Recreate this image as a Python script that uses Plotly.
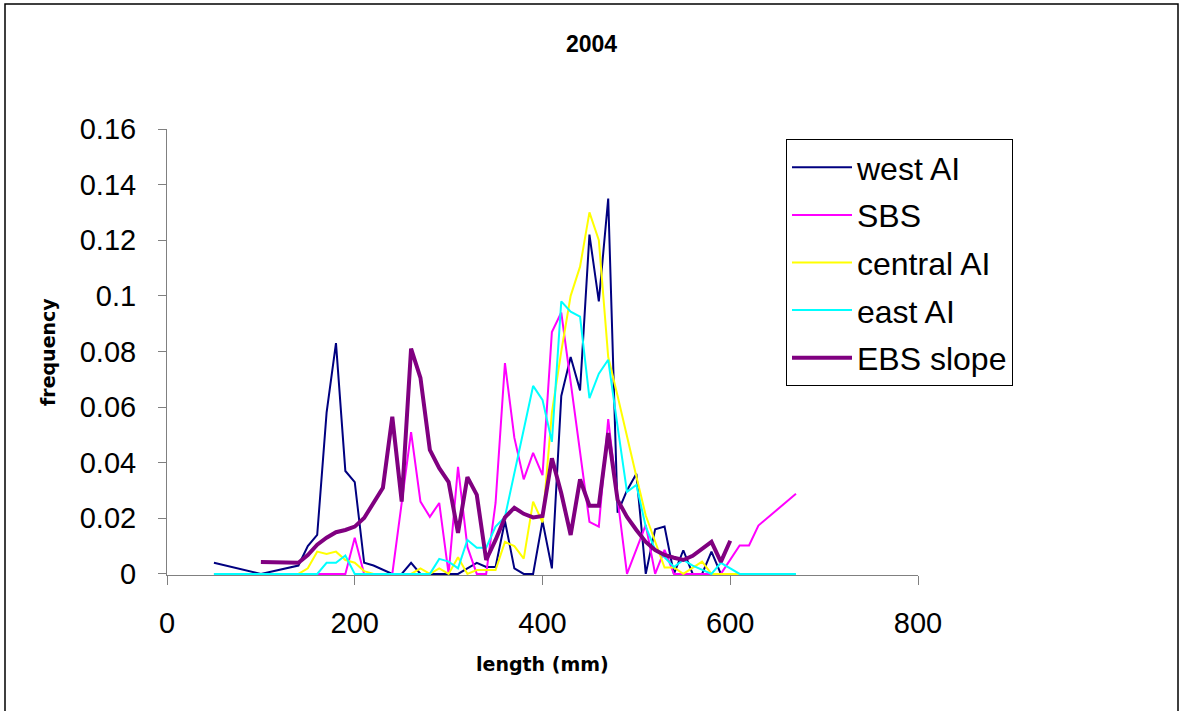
import plotly.graph_objects as go

# ---------------- data ----------------
west_ai_x = [50, 100, 140, 150, 160, 170, 180, 190, 200, 210, 220, 230, 240, 250, 260, 270, 280, 290, 300,
             310, 320, 330, 340, 350, 360, 370, 380, 390, 400, 410, 420, 430, 440, 450, 460, 470, 480, 490,
             500, 510, 520, 530, 540, 550, 560, 570, 580, 590, 600]
west_ai_y = [0.004, 0.0, 0.003, 0.010, 0.014, 0.058, 0.083, 0.037, 0.033, 0.004, 0.003, 0.0015, 0.0, 0.0, 0.004,
             0.0, 0.0, 0.0, 0.0, 0.0, 0.002, 0.004, 0.0025, 0.0025, 0.019, 0.002, 0.0, 0.0, 0.019, 0.002,
             0.064, 0.078, 0.066, 0.122, 0.098, 0.135, 0.022, 0.030, 0.036, 0.0, 0.016, 0.017, 0.0, 0.0085,
             0.0, 0.0, 0.008, 0.0, 0.0]

sbs_x = [50, 190, 200, 210, 240, 260, 270, 280, 290, 300, 310, 320, 330, 340, 350, 360, 370, 380, 390, 400,
         410, 420, 430, 440, 450, 460, 470, 480, 490, 510, 520, 530, 540, 590, 600, 610, 620, 630, 670]
sbs_y = [0.0, 0.0, 0.013, 0.0, 0.0, 0.051, 0.026, 0.0205, 0.0255, 0.0, 0.0385, 0.0097, 0.0, 0.0, 0.0255,
         0.0758, 0.049, 0.034, 0.0435, 0.0355, 0.087, 0.094, 0.069, 0.044, 0.0187, 0.017, 0.0557, 0.027,
         0.0, 0.0176, 0.0, 0.0086, 0.0, 0.0, 0.005, 0.0102, 0.0102, 0.0174, 0.0288]

central_ai_x = [50, 140, 150, 160, 170, 180, 190, 200, 210, 220, 260, 270, 280, 290, 300, 310, 320, 330, 340,
                350, 360, 370, 380, 390, 400, 410, 420, 430, 440, 450, 460, 470, 480, 490, 500, 510, 520, 530,
                540, 550, 570, 580, 670]
central_ai_y = [0.0, 0.0, 0.002, 0.008, 0.0072, 0.008, 0.005, 0.004, 0.001, 0.0, 0.0, 0.002, 0.0, 0.002, 0.0,
                0.006, 0.0, 0.0014, 0.0014, 0.0014, 0.0115, 0.010, 0.0055, 0.026, 0.0185, 0.058, 0.080, 0.100,
                0.1105, 0.130, 0.120, 0.078, 0.064, 0.049, 0.035, 0.021, 0.012, 0.0023, 0.0023, 0.0, 0.0044,
                0.0, 0.0]

east_ai_x = [50, 160, 170, 180, 190, 200, 280, 290, 300, 310, 320, 330, 340, 350, 360, 370, 380, 390, 400, 410,
             420, 430, 440, 450, 460, 470, 480, 490, 500, 510, 520, 530, 540, 550, 560, 570, 580, 590, 600, 610,
             670]
east_ai_y = [0.0, 0.0, 0.004, 0.004, 0.0066, 0.0, 0.0, 0.0054, 0.0044, 0.002, 0.0122, 0.0094, 0.0094, 0.017,
             0.0205, 0.0363, 0.0518, 0.0676, 0.0626, 0.0475, 0.098, 0.0943, 0.0925, 0.0632, 0.072, 0.077, 0.053,
             0.0295, 0.032, 0.017, 0.0086, 0.006, 0.0025, 0.005, 0.003, 0.0015, 0.0, 0.004, 0.002, 0.0, 0.0]

ebs_x = [100, 140, 150, 160, 170, 180, 190, 200, 210, 220, 230, 240, 250, 260, 270, 280, 290, 300, 310, 320,
         330, 340, 350, 360, 370, 380, 390, 400, 410, 420, 430, 440, 450, 460, 470, 480, 490, 500, 510, 520,
         530, 540, 550, 560, 570, 580, 590, 600]
ebs_y = [0.0043, 0.004, 0.0068, 0.0105, 0.013, 0.015, 0.0158, 0.017, 0.0201, 0.0255, 0.031, 0.0565, 0.026,
         0.081, 0.0705, 0.0446, 0.038, 0.033, 0.0147, 0.0348, 0.0284, 0.005, 0.0122, 0.0203, 0.0238, 0.0216,
         0.0203, 0.0208, 0.0416, 0.029, 0.014, 0.034, 0.0245, 0.0245, 0.0507, 0.0266, 0.0205, 0.0158, 0.0115,
         0.0086, 0.0068, 0.0058, 0.005, 0.0065, 0.009, 0.0115, 0.0043, 0.0119]

series_names = ["west AI", "SBS", "central AI", "east AI", "EBS slope"]
y_tick_vals = [0, 0.02, 0.04, 0.06, 0.08, 0.1, 0.12, 0.14, 0.16]
y_tick_text = ["0", "0.02", "0.04", "0.06", "0.08", "0.1", "0.12", "0.14", "0.16"]
x_tick_vals = [0, 200, 400, 600, 800]
x_tick_text = ["0", "200", "400", "600", "800"]

# ---------------- figure ----------------
W, H = 1183, 711
L, R, T, B = 167, 265, 129, 136
PW, PH = W - L - R, H - T - B

def px_x(p):
    return (p - L) / PW

def px_y(p):
    return (H - B - p) / PH

series = [
    (west_ai_x, west_ai_y, "#000080", 2),
    (sbs_x, sbs_y, "#FF00FF", 2),
    (central_ai_x, central_ai_y, "#FFFF00", 2),
    (east_ai_x, east_ai_y, "#00FFFF", 2),
    (ebs_x, ebs_y, "#800080", 4),
]

fig = go.Figure()
for name, (xs, ys, col, w) in zip(series_names, series):
    fig.add_trace(go.Scatter(x=xs, y=ys, mode="lines", name=name,
                             line=dict(color=col, width=w), legendgroup=name))

axis_font = dict(family="Arial, Liberation Sans, sans-serif", size=29, color="black")

fig.update_layout(
    width=W, height=H,
    margin=dict(l=L, r=R, t=T, b=B, pad=0),
    paper_bgcolor="white", plot_bgcolor="white",
    title=dict(text="<b>2004</b>", x=0.5, xref="container", xanchor="center",
               y=1 - 44 / H, yanchor="middle",
               font=dict(family="Arial, Liberation Sans, sans-serif", size=23, color="black")),
    showlegend=True,
    legend=dict(x=px_x(786), y=px_y(139), xanchor="left", yanchor="top",
                bgcolor="white", bordercolor="black", borderwidth=1,
                font=dict(family="Arial, Liberation Sans, sans-serif", size=32, color="black"),
                tracegroupgap=3, traceorder="grouped", itemwidth=60),
    xaxis=dict(range=[0, 800], tickvals=x_tick_vals, ticktext=x_tick_text,
               showgrid=False, zeroline=False, showline=True, linecolor="#808080", linewidth=1,
               ticks="outside", ticklen=9, tickcolor="#808080", tickwidth=1,
               tickfont=axis_font, ticklabelstandoff=13, layer="below traces"),
    yaxis=dict(range=[-0.0004, 0.16], tickvals=y_tick_vals, ticktext=y_tick_text,
               showgrid=False, zeroline=False, showline=True, linecolor="#808080", linewidth=1,
               ticks="outside", ticklen=8, tickcolor="#808080", tickwidth=1,
               tickfont=axis_font, ticklabelstandoff=16, layer="below traces"),
    annotations=[
        dict(text="<b>frequency</b>", x=px_x(48), y=px_y(352), xref="paper", yref="paper",
             xanchor="center", yanchor="middle", textangle=-90, showarrow=False,
             font=dict(family="DejaVu Sans", size=19, color="black")),
        dict(text="<b>length (mm)</b>", x=px_x(542), y=px_y(664), xref="paper", yref="paper",
             xanchor="center", yanchor="middle", showarrow=False,
             font=dict(family="DejaVu Sans", size=19, color="black")),
    ],
    shapes=[
        dict(type="rect", xref="paper", yref="paper",
             x0=px_x(5), x1=px_x(1178), y0=px_y(716), y1=px_y(4),
             line=dict(color="black", width=1.5), fillcolor="rgba(0,0,0,0)", layer="below"),
    ],
)

fig.write_html("out.html")
